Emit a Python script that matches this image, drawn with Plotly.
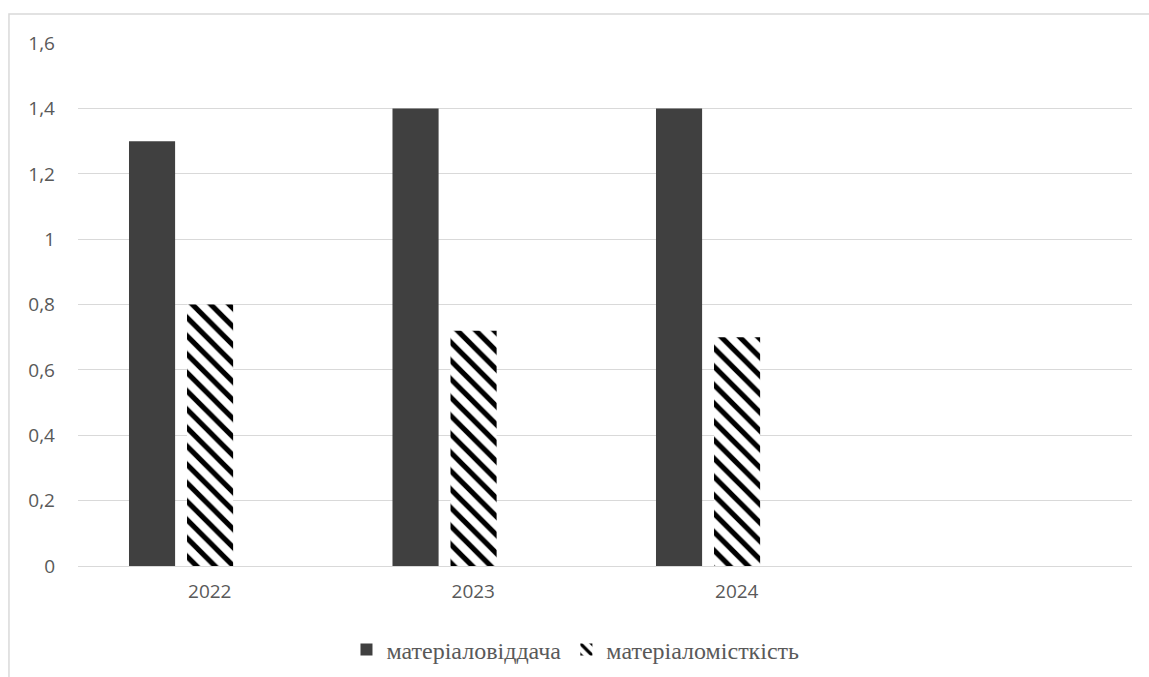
import plotly.graph_objects as go

years = ["2022", "2023", "2024"]
materialovid = [1.3, 1.4, 1.4]
materialomist = [0.8, 0.72, 0.7]
name1 = "матеріаловіддача"
name2 = "матеріаломісткість"

xpos = list(range(len(years)))
bar_w = 0.175
fig = go.Figure()
fig.add_trace(go.Bar(
    x=xpos, y=materialovid, name=name1, width=bar_w, offset=-0.3065,
    marker=dict(color="#404040", line=dict(width=0)),
))
fig.add_trace(go.Bar(
    x=xpos, y=materialomist, name=name2, width=bar_w, offset=-0.0863,
    marker=dict(color="white", line=dict(width=0),
                pattern=dict(shape="\\", fgcolor="black", bgcolor="white",
                             size=13, solidity=0.4, fillmode="replace")),
))

fig.update_layout(
    width=1149, height=677,
    margin=dict(l=78, r=17, t=43, b=111, autoexpand=False),
    paper_bgcolor="white", plot_bgcolor="white",
    barmode="overlay",
    separators=", ",
    showlegend=True,
    legend=dict(orientation="h", x=0.472, xanchor="center",
                yref="container", y=0.04, yanchor="middle",
                font=dict(family="'Liberation Serif', 'Times New Roman', 'DejaVu Serif', serif",
                          size=24, color="#595959"),
                itemwidth=30, tracegroupgap=0),
    xaxis=dict(range=[-0.5, 3.5], tickmode="array", tickvals=xpos, ticktext=years,
               showgrid=False, zeroline=False, showline=False, ticks="",
               ticklabelstandoff=12, automargin=False,
               tickfont=dict(family="Open Sans", size=19, color="#595959")),
    yaxis=dict(range=[0, 1.6005], dtick=0.2, tick0=0, showgrid=True, gridcolor="#d9d9d9",
               gridwidth=1, zeroline=True, zerolinecolor="#d9d9d9", zerolinewidth=1,
               showline=False, ticks="", ticklabelstandoff=22, automargin=False,
               tickfont=dict(family="Open Sans", size=19, color="#595959")),
    shapes=[dict(type="path", xref="paper", yref="paper",
                 path="M -0.0655,-0.25 L -0.0655,1.0555 L 1.1,1.0555",
                 line=dict(color="#d9d9d9", width=1.5))],
)
fig.write_html("out.html")
